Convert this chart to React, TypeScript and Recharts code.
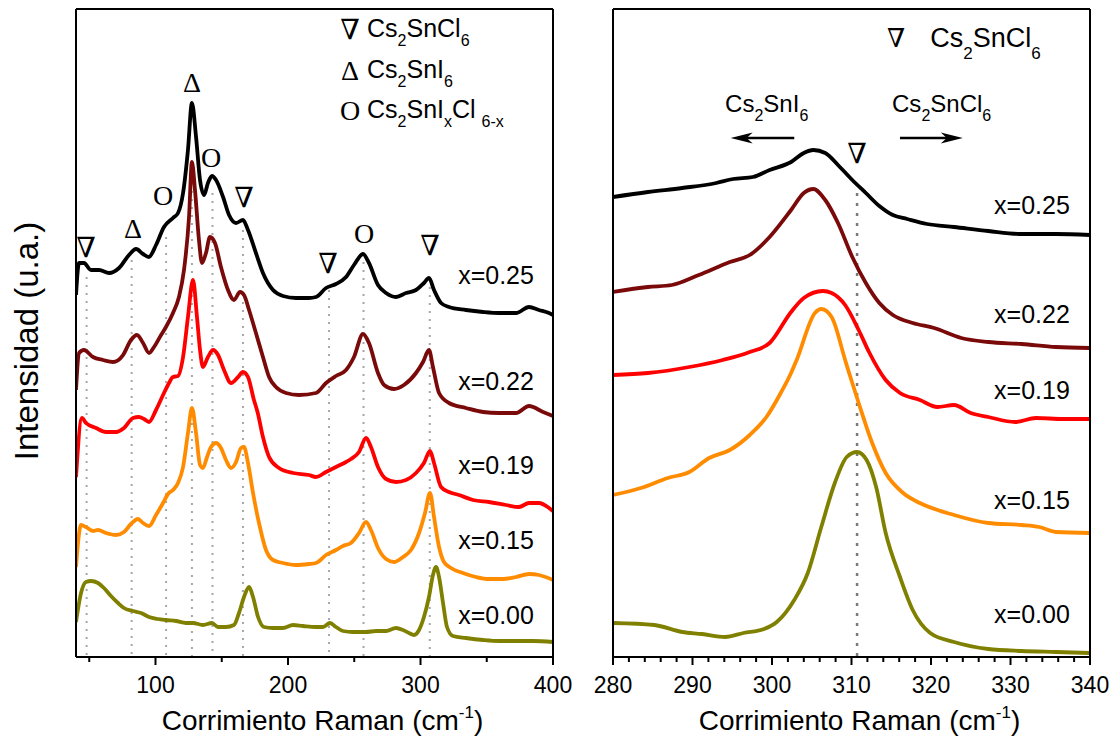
import React from 'react';
import { LineChart, Line, XAxis, YAxis, ReferenceLine, ReferenceDot } from 'recharts';

type Pt = [number, number];

// ---------- left panel: 40-400 cm-1 (intensities offset per sample, u.a.)
const leftTicks = [50, 100, 150, 200, 250, 300, 350, 400];
const leftTickLabels = [100, 200, 300, 400];

const left025: Pt[] = [
  [40, 3.62], [42.3, 3.94], [46, 3.94], [51.3, 3.87], [57.4, 3.87], [65, 3.84], [72.5, 3.89], [80, 4.02],
  [85.3, 4.08], [90.6, 4.03], [95, 4.0], [100.4, 4.12], [106.4, 4.3], [113.2, 4.39], [117, 4.44], [120.8, 4.64],
  [124.5, 5.07], [127.5, 5.54], [130.6, 5.2], [133.6, 4.77], [136.6, 4.62], [139.6, 4.74], [142.6, 4.81],
  [145.7, 4.77], [151, 4.6], [155.5, 4.42], [160.8, 4.34], [166, 4.37], [169.8, 4.27], [175.8, 4.04],
  [181.1, 3.84], [188.7, 3.67], [196.2, 3.61], [206, 3.59], [215.8, 3.59], [221.1, 3.6], [228.7, 3.69],
  [236.2, 3.73], [243.8, 3.8], [249.8, 3.92], [256.6, 4.03], [261.1, 3.94], [267.9, 3.72], [274, 3.64],
  [281.5, 3.6], [289.1, 3.64], [296.6, 3.67], [302.6, 3.74], [306.4, 3.79], [310.2, 3.67], [315.5, 3.54],
  [321.5, 3.5], [334.3, 3.47], [347.2, 3.45], [359.2, 3.44], [372.1, 3.44], [381.9, 3.5], [389.4, 3.47],
  [397, 3.44], [400, 3.42],
];
const left022: Pt[] = [
  [40, 2.67], [42.3, 3.04], [46, 3.07], [52.8, 3.0], [60.4, 2.97], [67.9, 2.95], [75.5, 3.02], [81.5, 3.17],
  [86, 3.22], [90.6, 3.14], [95.1, 3.04], [98.9, 3.1], [104.2, 3.22], [107.9, 3.3], [113.2, 3.44], [117.7, 3.6],
  [121.5, 3.87], [125.3, 4.4], [127.5, 4.95], [129.8, 4.67], [132.8, 4.17], [135.1, 3.94], [138.1, 4.04],
  [141.1, 4.2], [144.9, 4.14], [149.4, 3.9], [154.7, 3.67], [159.2, 3.57], [163.8, 3.65], [166.8, 3.62],
  [170.6, 3.47], [175.8, 3.24], [181.1, 3.0], [185.7, 2.8], [190.9, 2.7], [198.5, 2.64], [208.3, 2.62],
  [221.1, 2.64], [228.7, 2.74], [236.2, 2.81], [243.8, 2.87], [249.8, 3.0], [256.6, 3.23], [261.1, 3.14],
  [267.9, 2.84], [272.5, 2.72], [280, 2.68], [287.5, 2.72], [296.6, 2.84], [301.9, 2.95], [306.4, 3.07],
  [309.4, 2.9], [314, 2.64], [321.5, 2.54], [334.3, 2.49], [347.2, 2.45], [359.2, 2.44], [372.1, 2.44],
  [381.9, 2.51], [392.5, 2.45], [400, 2.41],
];
const left019: Pt[] = [
  [40, 1.8], [44.5, 2.39], [47.5, 2.34], [55.1, 2.29], [62.6, 2.25], [70.2, 2.25], [76.2, 2.29], [83, 2.39],
  [87.5, 2.4], [91.3, 2.38], [95.1, 2.35], [100.4, 2.47], [105.7, 2.62], [110.2, 2.74], [113.2, 2.8], [117, 2.81],
  [120.8, 3.0], [124.5, 3.4], [128.3, 3.77], [131.3, 3.4], [133.6, 3.07], [135.8, 2.9], [139.6, 3.0],
  [143.4, 3.07], [147.2, 3.02], [151.7, 2.87], [157, 2.74], [162.3, 2.8], [166, 2.85], [169.8, 2.8],
  [174.3, 2.57], [177, 2.45], [181.1, 2.2], [185.7, 2.0], [193.2, 1.89], [203.8, 1.84], [215.8, 1.82],
  [221.1, 1.8], [228.7, 1.85], [236.2, 1.9], [243.8, 1.95], [247.5, 1.98], [253.6, 2.05], [258.9, 2.19],
  [262.6, 2.1], [267.9, 1.9], [274, 1.78], [281.5, 1.75], [289.1, 1.77], [296.6, 1.84], [302.6, 1.94],
  [307.2, 2.06], [310.2, 1.94], [315.5, 1.7], [321.5, 1.65], [329, 1.62], [339.6, 1.57], [351.7, 1.55],
  [364.5, 1.52], [374.3, 1.5], [381.9, 1.54], [389.4, 1.54], [397, 1.49], [400, 1.46],
];
const left015: Pt[] = [
  [40, 0.9], [43.8, 1.32], [47.5, 1.3], [52.8, 1.26], [56.6, 1.27], [62.6, 1.24], [70.2, 1.22], [76.2, 1.25],
  [81.5, 1.33], [86.8, 1.38], [90.6, 1.34], [95.1, 1.31], [100.4, 1.42], [105.7, 1.54], [109.4, 1.63],
  [113.2, 1.67], [117, 1.74], [120.8, 1.9], [124.5, 2.24], [127.5, 2.49], [130.6, 2.24], [133.6, 1.92],
  [135.8, 1.89], [138.9, 2.0], [141.9, 2.1], [145.7, 2.14], [149.4, 2.09], [153.2, 1.97], [157, 1.89],
  [160.8, 1.95], [164.5, 2.09], [166.8, 2.1], [169.8, 1.94], [173.6, 1.64], [178.1, 1.34], [183.4, 1.07],
  [188.7, 0.97], [196.2, 0.94], [206, 0.92], [215.8, 0.93], [221.1, 0.94], [228.7, 1.02], [236.2, 1.07],
  [241.5, 1.11], [247.5, 1.14], [253.6, 1.24], [258.9, 1.35], [262.6, 1.27], [267.9, 1.09], [274, 0.98],
  [280, 0.95], [286.8, 1.0], [292.8, 1.07], [298.9, 1.24], [303.4, 1.44], [307.2, 1.64], [310.2, 1.4],
  [314, 1.1], [317.7, 0.95], [323, 0.89], [332, 0.84], [341.9, 0.8], [351.7, 0.78], [362.3, 0.78],
  [372.1, 0.8], [381.9, 0.83], [389.4, 0.82], [400, 0.77],
];
const left000: Pt[] = [
  [40, 0.35], [43.8, 0.64], [47.5, 0.75], [51.3, 0.76], [56.6, 0.74], [61.1, 0.69], [66.4, 0.61], [71.7, 0.54],
  [76.2, 0.49], [83, 0.46], [89.1, 0.44], [95.1, 0.4], [101.9, 0.38], [107.9, 0.37], [115.5, 0.36], [123, 0.34],
  [128.3, 0.34], [135.8, 0.32], [142.6, 0.34], [147.2, 0.3], [153.2, 0.3], [159.2, 0.32], [163, 0.44],
  [166.8, 0.6], [170.6, 0.7], [173.6, 0.6], [177.4, 0.4], [181.9, 0.3], [188.7, 0.29], [196.2, 0.29],
  [203.8, 0.32], [211.3, 0.31], [221.1, 0.3], [226.4, 0.3], [231.7, 0.34], [236.2, 0.3], [241.5, 0.26],
  [249, 0.25], [258.9, 0.25], [266.4, 0.26], [274, 0.26], [281.5, 0.29], [286.8, 0.27], [291.3, 0.24],
  [295.1, 0.22], [298.9, 0.27], [302.6, 0.4], [306.4, 0.6], [309.4, 0.82], [311.7, 0.9], [314, 0.8],
  [317, 0.54], [320, 0.3], [324.5, 0.21], [334.3, 0.19], [347.2, 0.17], [359.2, 0.16], [372.1, 0.16],
  [384.9, 0.16], [400, 0.15],
];

// dotted guides at the assigned peaks: [x, top of guide]
const leftGuides: Pt[] = [
  [48, 3.8], [82, 3.97], [108, 4.2], [127.5, 4.9], [143, 4.64], [166, 4.27], [231, 3.67], [257, 3.95], [307, 3.7],
];
// peak symbols above the x=0.25 spectrum
const leftMarks: [number, number, string][] = [
  [47.5, 4.1, '∇'], [83, 4.29, 'Δ'], [105.7, 4.62, 'O'], [127.5, 5.75, 'Δ'], [141.9, 5.0, 'O'],
  [166.8, 4.6, '∇'], [230.2, 3.94, '∇'], [257.4, 4.24, 'O'], [307.2, 4.12, '∇'],
];
const leftLabelX = 357;
const leftLabelY = [3.82, 2.76, 1.92, 1.17, 0.42];

// ---------- right panel: zoom 280-340 cm-1
const rightTickLabels = [280, 290, 300, 310, 320, 330, 340];
const rightTicks = Array.from({ length: 31 }, (_, i) => 280 + i * 2);

const right025: Pt[] = [
  [280, 4.6], [284.4, 4.65], [288.7, 4.69], [293, 4.74], [295.1, 4.78], [297.6, 4.8], [299.7, 4.87],
  [302.4, 4.95], [304, 5.04], [305.2, 5.07], [306.7, 5.04], [308.3, 4.92], [310.1, 4.77], [311.8, 4.64],
  [313.5, 4.51], [315.2, 4.42], [317, 4.38], [319.5, 4.33], [322.9, 4.3], [327.2, 4.26], [331.4, 4.23],
  [335.7, 4.23], [340, 4.22],
];
const right022: Pt[] = [
  [280, 3.65], [284.4, 3.7], [287.4, 3.72], [290.8, 3.82], [294.7, 3.95], [297.2, 4.02], [299.7, 4.2],
  [302.4, 4.47], [304, 4.64], [305.2, 4.68], [306.7, 4.57], [308.3, 4.34], [310.1, 4.0], [311.8, 3.74],
  [313.5, 3.54], [315.2, 3.42], [317.7, 3.34], [320.4, 3.29], [323.8, 3.19], [327.2, 3.15], [331.4, 3.13],
  [335.7, 3.1], [340, 3.09],
];
const right019: Pt[] = [
  [280, 2.82], [284.4, 2.84], [289.6, 2.9], [293.8, 2.97], [297.2, 3.05], [299.7, 3.14], [302.4, 3.45],
  [304, 3.59], [306.4, 3.66], [307.5, 3.64], [309.2, 3.52], [310.9, 3.27], [312.2, 3.05],
  [314.3, 2.77], [316.1, 2.64], [318.6, 2.57], [320.8, 2.5], [322.9, 2.52], [325, 2.44], [327.2, 2.4],
  [330.6, 2.35], [333.2, 2.39], [336.6, 2.38], [340, 2.38],
];
const right015: Pt[] = [
  [280, 1.62], [283.5, 1.69], [286.9, 1.79], [289.6, 1.85], [292.1, 1.99], [294.7, 2.07], [297.2, 2.22],
  [299.3, 2.4], [301.1, 2.64], [302.4, 2.84], [303.1, 2.97], [305.4, 3.44], [306.2, 3.48], [307.5, 3.4],
  [309.2, 2.97], [309.7, 2.84], [310.9, 2.54], [312.6, 2.14], [314.3, 1.84], [316.5, 1.64], [318.6, 1.54],
  [322.9, 1.42], [327.2, 1.34], [331.4, 1.32], [333.6, 1.3], [335.7, 1.25], [340, 1.24],
];
const right000: Pt[] = [
  [280, 0.34], [285.2, 0.32], [288.7, 0.25], [291.2, 0.23], [294.1, 0.2], [296.4, 0.24], [299, 0.28],
  [300.6, 0.35], [302.8, 0.57], [304.5, 0.84], [306.2, 1.3], [307.9, 1.74], [309.4, 2.0], [310.7, 2.05],
  [311.9, 1.97], [313.1, 1.7], [314.3, 1.24], [316.1, 0.8], [317.7, 0.47], [319.9, 0.24], [322.9, 0.15],
  [327.2, 0.08], [331.4, 0.06], [335.7, 0.05], [340, 0.04],
];
const rightLabelX = 332.7;
const rightLabelY = [4.52, 3.43, 2.67, 1.57, 0.43];

const sampleNames = ['x=0.25', 'x=0.22', 'x=0.19', 'x=0.15', 'x=0.00'];
const sampleColors = ['#000000', '#7a0a0a', '#ff0000', '#ff8c00', '#808000'];

const Y_MAX = 6.48;
const SANS = '"Liberation Sans", Arial, sans-serif';
const SERIF = '"Liberation Serif", "DejaVu Serif", serif';

const rows = (pts: Pt[]) => pts.map(([x, y]) => ({ x, y }));

const renderTick = (labeled: number[]) => (props: any) => {
  const { x, y, payload } = props;
  const major = labeled.includes(payload.value);
  return (
    <g>
      <line x1={x} x2={x} y1={y} y2={y + (major ? 8 : 5)} stroke="#000" strokeWidth={2} />
      {major && (
        <text x={x} y={y + 36} textAnchor="middle" fontSize={23} fontFamily={SANS} fill="#000">
          {payload.value}
        </text>
      )}
    </g>
  );
};

const xTitle = (props: any) => {
  const vb = props.viewBox;
  return (
    <text x={vb.x + vb.width / 2 + 8} y={vb.y + 73} textAnchor="middle" fontSize={28} fontFamily={SANS} fill="#000">
      Corrimiento Raman (cm
      <tspan fontSize={17} dy={-12}>-1</tspan>
      <tspan dy={12}>)</tspan>
    </text>
  );
};

const yTitle = (props: any) => {
  const vb = props.viewBox;
  const cx = vb.x - 49;
  const cy = vb.y + vb.height / 2 + 8;
  return (
    <text x={cx} y={cy} transform={`rotate(-90, ${cx}, ${cy})`} textAnchor="middle" dominantBaseline="central"
      fontSize={33} fontFamily={SANS} fill="#000">
      Intensidad (u.a.)
    </text>
  );
};

// chemical formula: alternating normal / subscript pieces
const chem = (parts: string[], subSize: number, shift: number) =>
  parts.map((t, i) =>
    i % 2 === 0 ? (
      <tspan key={i} dy={i === 0 ? 0 : -shift}>{t}</tspan>
    ) : (
      <tspan key={i} fontSize={subSize} dy={shift} dx={t.startsWith('6-') ? 6 : 0}>{t}</tspan>
    ),
  );

const symbolShape = (s: string, size = 28) => (p: any) => (
  <text x={p.cx} y={p.cy} textAnchor="middle" dominantBaseline="central" fontFamily={SERIF} fontSize={size} fill="#000">
    {s}
  </text>
);

const textShape = (s: string, size = 25) => (p: any) => (
  <text x={p.cx} y={p.cy} textAnchor="middle" dominantBaseline="central" fontFamily={SANS} fontSize={size} fill="#000">
    {s}
  </text>
);

const chemShape = (parts: string[], size: number, subSize: number, shift: number) => (p: any) => (
  <text x={p.cx} y={p.cy} fontFamily={SANS} fontSize={size} fill="#000">
    {chem(parts, subSize, shift)}
  </text>
);

const arrowShape = (p: any) => {
  const { x1, y1, x2, y2 } = p;
  const d = Math.sign(x2 - x1);
  return (
    <g>
      <line x1={x1} y1={y1} x2={x2 - d * 14} y2={y2} stroke="#000" strokeWidth={2.5} />
      <polygon
        points={`${x2},${y2} ${x2 - d * 22},${y2 - 5.5} ${x2 - d * 16},${y2} ${x2 - d * 22},${y2 + 5.5}`}
        fill="#000"
      />
    </g>
  );
};

const frameLine = { stroke: '#000', strokeWidth: 2 };

const legendRows: { sym: string; y: number; parts: string[] }[] = [
  { sym: '∇', y: 6.2, parts: ['Cs', '2', 'SnCl', '6'] },
  { sym: 'Δ', y: 5.79, parts: ['Cs', '2', 'SnI', '6'] },
  { sym: 'O', y: 5.39, parts: ['Cs', '2', 'SnI', 'x', 'Cl', '6-x'] },
];

// bottom axis with ticks + top / left / right frame lines (axes of width 1 so they draw)
const Frame = (domain: [number, number], ticks: number[], labels: number[], withTitle: boolean) => [
  <XAxis key="xb" dataKey="x" type="number" domain={domain} ticks={ticks} interval={0} tick={renderTick(labels)}
    tickLine={false} tickSize={0} tickMargin={0} axisLine={frameLine} height={40} allowDataOverflow label={xTitle} />,
  <XAxis key="xt" xAxisId="top" orientation="top" dataKey="x" type="number" domain={domain} tick={false}
    tickLine={false} axisLine={frameLine} height={1} />,
  <YAxis key="yl" type="number" domain={[0, Y_MAX]} tick={false} tickLine={false} axisLine={frameLine} width={1}
    label={withTitle ? yTitle : undefined} />,
  <YAxis key="yr" yAxisId="right" orientation="right" type="number" domain={[0, Y_MAX]} tick={false}
    tickLine={false} axisLine={frameLine} width={1} />,
];

const App: React.FC = () => {
  const leftSeries = [left025, left022, left019, left015, left000];
  const rightSeries = [right025, right022, right019, right015, right000];

  return (
    <div style={{ position: 'absolute', left: 0, top: 0, width: 1113, height: 736, background: '#fff', fontFamily: SANS }}>
      <div style={{ position: 'absolute', left: 0, top: 0 }}>
        <LineChart width={580} height={736} margin={{ top: 8, right: 26, bottom: 39, left: 75 }}>
          {Frame([40, 400], leftTicks, leftTickLabels, true)}
          {leftGuides.map(([x, top]) => (
            <ReferenceLine key={`g${x}`} segment={[{ x, y: top }, { x, y: 0 }]} stroke="#a6a6a6"
              strokeWidth={2} strokeDasharray="2 6" />
          ))}
          {leftSeries.map((s, i) => (
            <Line key={sampleNames[i]} data={rows(s)} dataKey="y" type="monotone" stroke={sampleColors[i]}
              strokeWidth={3.8} dot={false} isAnimationActive={false} />
          ))}
          {leftMarks.map(([x, y, s], i) => (
            <ReferenceDot key={`m${i}`} x={x} y={y} r={1} shape={symbolShape(s)} />
          ))}
          {legendRows.map((r) => (
            <ReferenceDot key={r.sym} x={246.8} y={r.y} r={1} shape={(p: any) => (
              <g>
                {symbolShape(r.sym)({ cx: p.cx, cy: p.cy - 8 })}
                {chemShape(r.parts, 25, 16, 9)({ cx: p.cx + 17, cy: p.cy })}
              </g>
            )} />
          ))}
          {sampleNames.map((n, i) => (
            <ReferenceDot key={n} x={leftLabelX} y={leftLabelY[i]} r={1} shape={textShape(n)} />
          ))}
        </LineChart>
      </div>

      <div style={{ position: 'absolute', left: 580, top: 0 }}>
        <LineChart width={533} height={736} margin={{ top: 8, right: 22, bottom: 39, left: 32 }}>
          {Frame([280, 340], rightTicks, rightTickLabels, false)}
          <ReferenceLine segment={[{ x: 310.7, y: 4.64 }, { x: 310.7, y: 0 }]} stroke="#7a7a7a" strokeWidth={2.5}
            strokeDasharray="3 7" />
          {rightSeries.map((s, i) => (
            <Line key={sampleNames[i]} data={rows(s)} dataKey="y" type="monotone" stroke={sampleColors[i]}
              strokeWidth={3.8} dot={false} isAnimationActive={false} />
          ))}
          <ReferenceDot x={315.6} y={6.19} r={1} shape={symbolShape('∇', 26)} />
          <ReferenceDot x={319.9} y={6.1} r={1} shape={chemShape(['Cs', '2', 'SnCl', '6'], 27, 17, 12)} />
          <ReferenceDot x={294.1} y={5.45} r={1} shape={chemShape(['Cs', '2', 'SnI', '6'], 24, 16, 9)} />
          <ReferenceDot x={315.1} y={5.45} r={1} shape={chemShape(['Cs', '2', 'SnCl', '6'], 24, 16, 9)} />
          <ReferenceLine segment={[{ x: 302.8, y: 5.19 }, { x: 294.8, y: 5.19 }]} shape={arrowShape} />
          <ReferenceLine segment={[{ x: 316.1, y: 5.19 }, { x: 324.0, y: 5.19 }]} shape={arrowShape} />
          <ReferenceDot x={310.7} y={5.04} r={1} shape={symbolShape('∇', 28)} />
          {sampleNames.map((n, i) => (
            <ReferenceDot key={n} x={rightLabelX} y={rightLabelY[i]} r={1} shape={textShape(n)} />
          ))}
        </LineChart>
      </div>
    </div>
  );
};

export default App;
